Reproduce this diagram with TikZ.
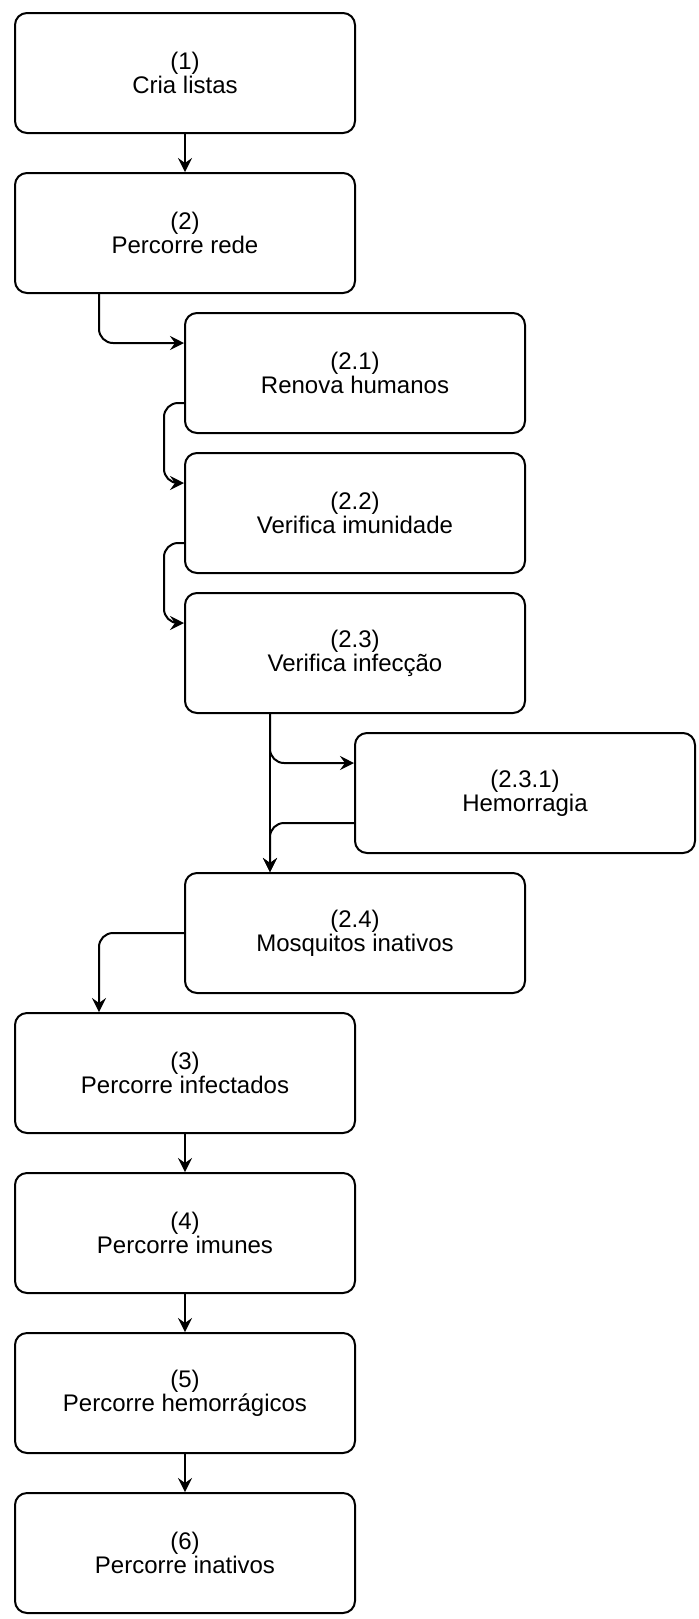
\documentclass[tikz,border=0pt]{standalone}
\usepackage{fontspec}
\setmainfont{Liberation Sans}
\usetikzlibrary{arrows.meta}

\begin{document}
\begin{tikzpicture}[x=1pt, y=-1pt, line width=1pt,
        stepbox/.style={draw, rounded corners=6pt, anchor=north west, minimum width=170pt,
            minimum height=60pt, align=center, font=\fontsize{12}{12}\selectfont},
        >={Stealth[length=7pt, width=7pt, inset=2.5pt]}]
        \useasboundingbox (0,0) rectangle (349.5,809.5);
        \draw
            (7, 6) node[stepbox] (n1){(1)\\Cria listas}
            (7, 86) node[stepbox] (n2){(2)\\Percorre rede}
            (92, 156) node[stepbox] (n21){(2.1)\\Renova humanos}
            (92, 226) node[stepbox] (n22){(2.2)\\Verifica imunidade}
            (92, 296) node[stepbox] (n23){(2.3)\\Verifica infecção}
            (177, 366) node[stepbox] (n231){(2.3.1)\\Hemorragia}
            (92, 436) node[stepbox] (n24){(2.4)\\Mosquitos inativos}
            (7, 506) node[stepbox] (n3){(3)\\Percorre infectados}
            (7, 586) node[stepbox] (n4){(4)\\Percorre imunes}
            (7, 666) node[stepbox] (n5){(5)\\Percorre hemorrágicos}
            (7, 746) node[stepbox] (n6){(6)\\Percorre inativos};
        \begin{scope}[->, rounded corners=7pt]
            \draw (n1) to (n2);
            \draw ([xshift=-43pt]n2.south) |- ([yshift=15pt]n21.west);
            \draw ([yshift=-15pt]n21.west) -- ++(-10,0) |- ([yshift=15pt]n22.west);
            \draw ([yshift=-15pt]n22.west) -- ++(-10,0) |- ([yshift=15pt]n23.west);
            \draw ([xshift=-42.5pt]n23.south) |- ([yshift=15pt]n231.west);
            \draw ([xshift=-42.5pt]n23.south) -- ([xshift=-42.5pt]n24.north);
            \draw ([yshift=-15pt]n231.west) -| ([xshift=-42.5pt]n24.north);
            \draw (n24.west) -| ([xshift=-43pt]n3.north);
            \draw (n3) to (n4);
            \draw (n4) to (n5);
            \draw (n5) to (n6);
        \end{scope}
  \end{tikzpicture}
\end{document}
